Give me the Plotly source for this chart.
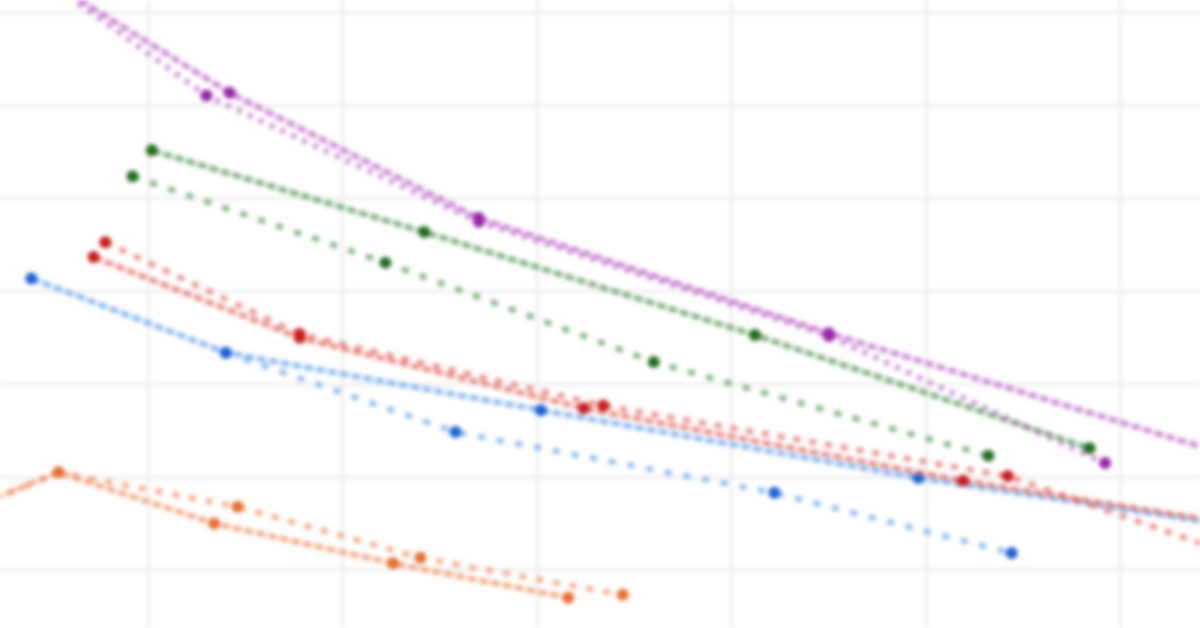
import plotly.graph_objs as go

# years (x) and values (y) for each series
purple_a_x = [2002.2, 2007.1, 2013.5, 2022.5, 2033.6]
purple_a_y = [74.1, 61.4, 47.9, 35.5, 21.3]
purple_b_x = [2002.2, 2006.5, 2013.5, 2022.5, 2029.6]
purple_b_y = [74.1, 61.1, 47.5, 35.2, 21.5]

green_a_x = [2005.1, 2012.1, 2020.6, 2029.2]
green_a_y = [55.2, 46.4, 35.3, 23.1]
green_b_x = [2004.6, 2011.1, 2018.0, 2026.6]
green_b_y = [52.4, 43.1, 32.4, 22.3]

red_a_x = [2003.6, 2008.9, 2016.2, 2025.95, 2033.6]
red_a_y = [43.7, 35.0, 27.4, 19.6, 14.5]
red_b_x = [2003.9, 2008.9, 2016.7, 2027.1, 2033.6]
red_b_y = [45.3, 35.4, 27.7, 20.1, 10.6]

blue_a_x = [2002.0, 2007.0, 2015.1, 2024.8, 2033.6]
blue_a_y = [41.4, 33.4, 27.2, 19.9, 14.3]
blue_b_x = [2007.0, 2012.9, 2021.1, 2027.2]
blue_b_y = [33.4, 24.85, 18.3, 11.8]

orange_a_x = [2000.2, 2002.7, 2006.7, 2011.3, 2015.8]
orange_a_y = [16.2, 20.5, 15.0, 10.7, 7.0]
orange_b_x = [2000.2, 2002.7, 2007.3, 2012.0, 2017.2]
orange_b_y = [16.2, 20.5, 16.8, 11.3, 7.3]

colors = {
    'purple': ('rgba(185,95,195,0.7)', 'rgb(150,40,165)'),
    'green': ('rgba(75,145,75,0.7)', 'rgb(35,110,35)'),
    'red': ('rgba(225,100,90,0.7)', 'rgb(200,30,30)'),
    'blue': ('rgba(95,160,235,0.7)', 'rgb(30,100,210)'),
    'orange': ('rgba(238,140,90,0.7)', 'rgb(232,110,50)'),
}


def trace(x, y, name, dash):
    line_col, mark_col = colors[name]
    return go.Scatter(
        x=x, y=y,
        mode='lines+markers',
        line=dict(color=line_col, width=5.5, dash=dash),
        marker=dict(color=mark_col, size=12),
        showlegend=False)


data = [
    trace(orange_a_x, orange_a_y, 'orange', '9px,3px'),
    trace(orange_b_x, orange_b_y, 'orange', '7px,10px'),
    trace(blue_a_x, blue_a_y, 'blue', '9px,3px'),
    trace(blue_b_x, blue_b_y, 'blue', '7px,12px'),
    trace(red_a_x, red_a_y, 'red', '9px,3px'),
    trace(red_b_x, red_b_y, 'red', '7px,9px'),
    trace(green_a_x, green_a_y, 'green', '9px,3px'),
    trace(green_b_x, green_b_y, 'green', '7px,12px'),
    trace(purple_a_x, purple_a_y, 'purple', '9px,3px'),
    trace(purple_b_x, purple_b_y, 'purple', '5px,7px'),
]

grid = dict(showgrid=True, gridcolor='rgb(238,238,238)', gridwidth=3,
            zeroline=False, showticklabels=False, ticks='', showline=False)

layout = go.Layout(
    width=1200, height=628,
    margin=dict(l=0, r=0, t=0, b=0),
    paper_bgcolor='white', plot_bgcolor='white',
    xaxis=dict(range=[2001.195, 2032.04], dtick=5, tick0=2005, **grid),
    yaxis=dict(range=[3.73, 71.40], dtick=10, tick0=10, **grid),
)

fig = go.Figure(data=data, layout=layout)

# the page body has an 8px margin by default; drop it, and soften like the source
post = ("document.body.style.margin='0';"
        "document.getElementById('{plot_id}').style.filter='blur(2px)';")
fig.write_html("out.html", config={'displayModeBar': False}, post_script=post)
